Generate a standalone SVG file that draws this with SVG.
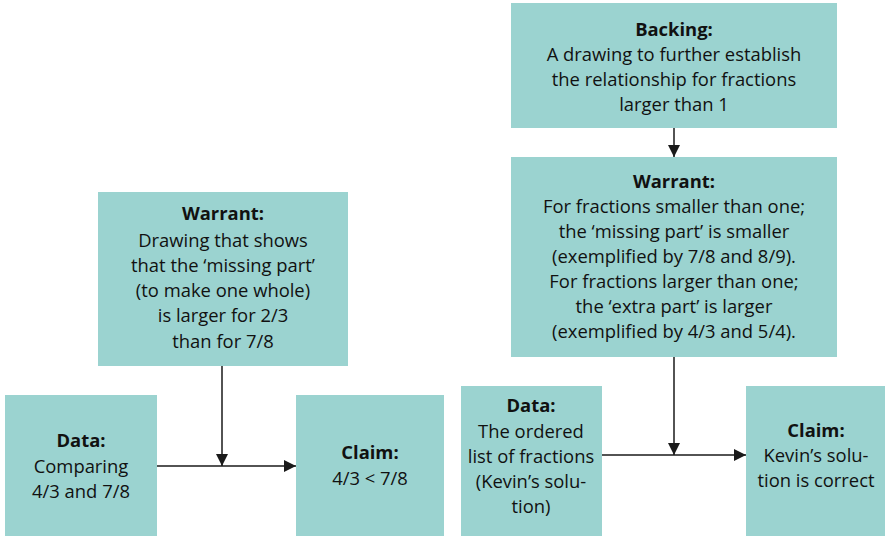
<svg xmlns="http://www.w3.org/2000/svg" width="885" height="536" viewBox="0 0 885 536">
<style>
.box{fill:#9bd3d0}
text{font-family:"Open Sans","Noto Sans",sans-serif;font-size:18.4px;fill:#111;text-anchor:middle}
.b{font-weight:bold}
.ln{stroke:#1a1a1a;stroke-width:1.5;fill:none}
</style>
<defs>
<marker id="ah2" viewBox="0 0 10 10" refX="10" refY="5" markerWidth="12" markerHeight="12" markerUnits="userSpaceOnUse" orient="auto"><path d="M0,0 L10,5 L0,10 z" fill="#1a1a1a"/></marker>
</defs>
<g id="warrant1"><rect class="box" x="98" y="192" width="250" height="174"/>
<text x="223" y="220" class="b">Warrant:</text>
<text x="223" y="247">Drawing that shows</text>
<text x="223" y="272">that the ‘missing part’</text>
<text x="223" y="297">(to make one whole)</text>
<text x="223" y="322">is larger for 2/3</text>
<text x="223" y="348">than for 7/8</text></g>
<g id="data1"><rect class="box" x="5" y="395" width="152" height="141"/>
<text x="81" y="447" class="b">Data:</text>
<text x="81" y="473">Comparing</text>
<text x="81" y="498">4/3 and 7/8</text></g>
<g id="claim1"><rect class="box" x="296" y="395" width="148" height="141"/>
<text x="370" y="459" class="b">Claim:</text>
<text x="370" y="485">4/3 &lt; 7/8</text></g>
<g id="backing"><rect class="box" x="511" y="3" width="326" height="125"/>
<text x="674" y="36" class="b">Backing:</text>
<text x="674" y="61">A drawing to further establish</text>
<text x="674" y="86">the relationship for fractions</text>
<text x="674" y="111">larger than 1</text></g>
<g id="warrant2"><rect class="box" x="511" y="157" width="326" height="200"/>
<text x="674" y="188" class="b">Warrant:</text>
<text x="674" y="213">For fractions smaller than one;</text>
<text x="674" y="238">the ‘missing part’ is smaller</text>
<text x="674" y="263">(exemplified by 7/8 and 8/9).</text>
<text x="674" y="288">For fractions larger than one;</text>
<text x="674" y="313">the ‘extra part’ is larger</text>
<text x="674" y="338">(exemplified by 4/3 and 5/4).</text></g>
<g id="data2"><rect class="box" x="461" y="386" width="141" height="150"/>
<text x="531" y="412" class="b">Data:</text>
<text x="531" y="438">The ordered</text>
<text x="531" y="463">list of fractions</text>
<text x="531" y="488">(Kevin’s solu-</text>
<text x="531" y="513">tion)</text></g>
<g id="claim2"><rect class="box" x="746" y="386" width="139" height="150"/>
<text x="816" y="437" class="b">Claim:</text>
<text x="816" y="462">Kevin’s solu-</text>
<text x="816" y="487">tion is correct</text></g>
<g id="connectors">
<line class="ln" x1="157" y1="466" x2="296" y2="466" marker-end="url(#ah2)"/>
<line class="ln" x1="222" y1="366" x2="222" y2="466" marker-end="url(#ah2)"/>
<line class="ln" x1="674" y1="128" x2="674" y2="157" marker-end="url(#ah2)"/>
<line class="ln" x1="602" y1="455" x2="746" y2="455" marker-end="url(#ah2)"/>
<line class="ln" x1="674" y1="357" x2="674" y2="455" marker-end="url(#ah2)"/>
</g>
</svg>
